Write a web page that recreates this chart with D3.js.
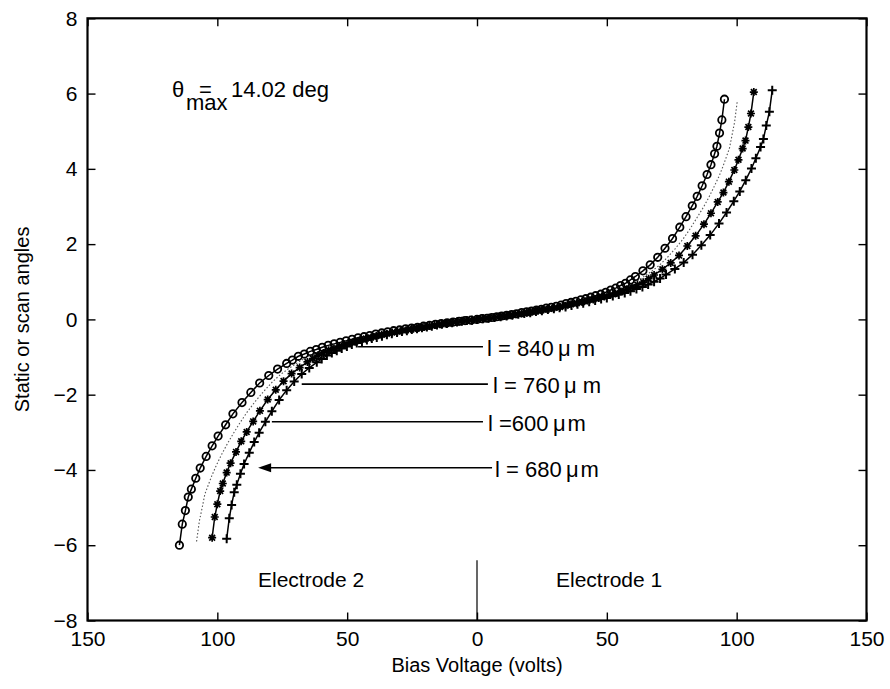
<!DOCTYPE html>
<html>
<head>
<meta charset="utf-8">
<script src="https://cdn.jsdelivr.net/npm/d3@7"></script>
<style>
  html, body { margin: 0; padding: 0; background: #fff; }
  svg { display: block; }
  text { font-family: "Liberation Sans", Arial, Helvetica, sans-serif; fill: #000; }
</style>
</head>
<body>
<svg id="chart" width="890" height="689"></svg>
<script>
// ---- axis ticks ----
const xTickValues = [-150, -100, -50, 0, 50, 100, 150];
const yTickValues = [-8, -6, -4, -2, 0, 2, 4, 6, 8];

// ---- curve with circle markers ----
const voltsO = [-114.6,-113.5,-112.3,-111.2,-110.0,-108.3,-106.6,-104.3,-102.0,-99.7,-96.8,-94.0,-90.5,-87.1,-83.7,-80.2,-76.8,-73.3,-68.8,-64.2,-59.6,-55.0,-50.4,-45.8,-41.3,-36.7,-32.1,-27.5,-22.9,-18.3,-13.8,-9.2,-4.6,
  0,3.8,7.6,11.4,15.2,19.1,22.9,26.7,30.5,34.3,38.1,41.9,45.7,49.6,53.4,57.2,61.0,63.9,66.7,69.6,72.4,75.3,78.1,80.5,82.9,84.8,86.7,88.6,90.1,91.5,92.4,93.4,94.3,95.3];
const angleO = [-6.00,-5.44,-5.08,-4.72,-4.51,-4.22,-3.95,-3.64,-3.36,-3.10,-2.80,-2.51,-2.21,-1.94,-1.69,-1.49,-1.32,-1.17,-0.98,-0.85,-0.74,-0.65,-0.57,-0.49,-0.43,-0.36,-0.30,-0.25,-0.21,-0.16,-0.11,-0.07,-0.03,
  0,0.03,0.07,0.11,0.15,0.20,0.25,0.30,0.35,0.42,0.48,0.55,0.63,0.72,0.83,0.96,1.14,1.29,1.45,1.65,1.89,2.15,2.45,2.73,3.02,3.27,3.55,3.85,4.11,4.40,4.60,4.95,5.30,5.85];
// extra samples through the flat middle of the circle curve
const voltsOMid = [-71.1,-66.5,-61.9,-57.3,-52.7,-48.1,-43.5,-39.0,-34.4,-29.8,-25.2,-20.6,-16.0,-11.5,-6.9,-2.3,
  1.9,5.7,9.5,13.3,17.2,21.0,24.8,28.6,32.4,36.2,40.0,43.8,47.7,51.5,55.3,59.1];
const angleOMid = [-1.08,-0.92,-0.80,-0.69,-0.61,-0.53,-0.46,-0.39,-0.33,-0.28,-0.23,-0.18,-0.13,-0.09,-0.05,-0.02,
  0.02,0.05,0.09,0.13,0.18,0.22,0.27,0.32,0.38,0.45,0.52,0.59,0.67,0.78,0.90,1.05];

// ---- dotted curve (no markers) ----
const voltsDot = [-108.0,-106.9,-105.8,-104.8,-103.7,-102.1,-100.4,-98.3,-96.1,-94.0,-91.3,-88.6,-85.3,-82.1,-78.8,-75.6,-72.4,-69.1,-64.8,-60.5,-56.2,-51.8,-47.5,-43.2,-38.9,-34.6,-30.2,-25.9,-21.6,-17.3,-13.0,-8.6,-4.3,
  0,4.0,8.0,12.0,16.0,20.0,24.0,28.1,32.1,36.1,40.1,44.1,48.1,52.1,56.1,60.1,64.1,67.1,70.1,73.1,76.2,79.2,82.2,84.7,87.2,89.2,91.2,93.2,94.7,96.2,97.2,98.2,99.2,100.2];
const angleDot = [-5.90,-5.35,-4.99,-4.64,-4.44,-4.15,-3.88,-3.58,-3.30,-3.05,-2.75,-2.47,-2.17,-1.91,-1.66,-1.46,-1.30,-1.15,-0.97,-0.84,-0.73,-0.64,-0.56,-0.48,-0.42,-0.36,-0.30,-0.25,-0.20,-0.15,-0.11,-0.07,-0.03,
  0,0.03,0.07,0.11,0.15,0.20,0.25,0.29,0.35,0.41,0.47,0.55,0.62,0.71,0.82,0.95,1.13,1.27,1.43,1.63,1.87,2.12,2.42,2.70,2.98,3.23,3.51,3.80,4.06,4.35,4.54,4.89,5.24,5.78];

// ---- curve with star markers ----
const voltsStar = [-102.0,-101.0,-100.0,-98.9,-97.9,-96.4,-94.9,-92.8,-90.8,-88.7,-86.2,-83.6,-80.6,-77.5,-74.5,-71.4,-68.3,-65.3,-61.2,-57.1,-53.0,-49.0,-44.9,-40.8,-36.7,-32.6,-28.6,-24.5,-20.4,-16.3,-12.2,-8.2,-4.1,
  0,4.3,8.5,12.8,17.1,21.3,25.6,29.8,34.1,38.4,42.6,46.9,51.2,55.4,59.7,64.0,68.2,71.4,74.6,77.8,81.0,84.2,87.4,90.1,92.7,94.9,97.0,99.1,100.7,102.3,103.4,104.5,105.5,106.6];
const angleStar = [-5.80,-5.25,-4.91,-4.56,-4.36,-4.07,-3.82,-3.52,-3.24,-2.99,-2.71,-2.43,-2.13,-1.87,-1.64,-1.44,-1.28,-1.13,-0.95,-0.82,-0.71,-0.62,-0.55,-0.48,-0.41,-0.35,-0.29,-0.25,-0.20,-0.15,-0.11,-0.07,-0.03,
  0,0.03,0.07,0.11,0.16,0.21,0.26,0.31,0.36,0.43,0.50,0.57,0.65,0.74,0.86,0.99,1.18,1.33,1.50,1.70,1.95,2.22,2.53,2.82,3.12,3.37,3.66,3.97,4.24,4.54,4.75,5.11,5.47,6.04];
const voltsStarMid = [-63.2,-59.2,-55.1,-51.0,-46.9,-42.8,-38.8,-34.7,-30.6,-26.5,-22.4,-18.4,-14.3,-10.2,-6.1,-2.0,
  2.1,6.4,10.7,14.9,19.2,23.5,27.7,32.0,36.2,40.5,44.8,49.0,53.3,57.6,61.8,66.1];
const angleStarMid = [-1.04,-0.89,-0.77,-0.66,-0.59,-0.51,-0.44,-0.38,-0.32,-0.27,-0.22,-0.17,-0.13,-0.09,-0.05,-0.02,
  0.02,0.05,0.09,0.14,0.18,0.23,0.28,0.33,0.40,0.46,0.53,0.61,0.69,0.80,0.92,1.08];

// ---- curve with plus markers ----
const voltsPlus = [-96.4,-95.4,-94.5,-93.5,-92.5,-91.1,-89.7,-87.7,-85.8,-83.9,-81.5,-79.0,-76.2,-73.3,-70.4,-67.5,-64.6,-61.7,-57.8,-54.0,-50.1,-46.3,-42.4,-38.6,-34.7,-30.8,-27.0,-23.1,-19.3,-15.4,-11.6,-7.7,-3.9,
  0,4.5,9.1,13.6,18.2,22.7,27.3,31.8,36.4,40.9,45.5,50.0,54.6,59.1,63.7,68.2,72.8,76.2,79.6,83.0,86.4,89.8,93.2,96.1,98.9,101.2,103.5,105.7,107.4,109.2,110.3,111.4,112.6,113.7];
const anglePlus = [-5.83,-5.28,-4.93,-4.59,-4.39,-4.10,-3.84,-3.54,-3.26,-3.01,-2.72,-2.44,-2.14,-1.88,-1.65,-1.45,-1.29,-1.14,-0.96,-0.83,-0.72,-0.63,-0.55,-0.48,-0.41,-0.35,-0.30,-0.25,-0.20,-0.15,-0.11,-0.07,-0.03,
  0,0.03,0.07,0.11,0.16,0.21,0.26,0.31,0.37,0.43,0.50,0.57,0.66,0.75,0.86,1.00,1.19,1.34,1.51,1.72,1.97,2.24,2.55,2.84,3.14,3.40,3.70,4.01,4.28,4.58,4.79,5.15,5.52,6.09];
const voltsPlusMid = [-59.8,-55.9,-52.1,-48.2,-44.3,-40.5,-36.6,-32.8,-28.9,-25.1,-21.2,-17.4,-13.5,-9.6,-5.8,-1.9,
  2.3,6.8,11.4,15.9,20.5,25.0,29.6,34.1,38.7,43.2,47.8,52.3,56.9,61.4,65.9,70.5];
const anglePlusMid = [-1.05,-0.89,-0.77,-0.67,-0.59,-0.51,-0.45,-0.38,-0.32,-0.27,-0.22,-0.18,-0.13,-0.09,-0.05,-0.02,
  0.02,0.05,0.09,0.14,0.18,0.23,0.28,0.33,0.40,0.47,0.54,0.62,0.70,0.81,0.93,1.09];

// ---- length labels ----
const lengthLabels = ["l = 840\u2009\u03bc m", "l = 760\u2009\u03bc m", "l =600\u2009\u03bc\u200am", "l = 680\u2009\u03bc\u200am"];

// ------------------------------------------------------------
const svg = d3.select("#chart");
const x = d3.scaleLinear().domain([-150, 150]).range([87.5, 866.5]);
const y = d3.scaleLinear().domain([-8, 8]).range([620.5, 18.3]);

const zip = (vs, as) => vs.map((v, i) => ({ v, a: as[i] }));
const merged = (vs, as, vm, am) => zip(vs.concat(vm), as.concat(am)).sort((p, q) => p.v - q.v);
const line = d3.line().x(d => x(d.v)).y(d => y(d.a));

// axes with inward ticks on all four sides
const fmtX = d => String(Math.abs(d));
const tick = 8;
svg.append("g").attr("transform", `translate(0,${y(-8)})`)
  .call(d3.axisBottom(x).tickValues(xTickValues).tickFormat(fmtX).tickSizeInner(-tick).tickSizeOuter(0).tickPadding(10))
  .call(g => g.select(".domain").remove())
  .call(g => g.selectAll("text").attr("font-size", 21).attr("dy", "0.72em").attr("font-family", null));
svg.append("g").attr("transform", `translate(0,${y(8)})`)
  .call(d3.axisTop(x).tickValues(xTickValues).tickFormat("").tickSizeInner(-tick).tickSizeOuter(0))
  .call(g => g.select(".domain").remove());
svg.append("g").attr("transform", `translate(${x(-150)},0)`)
  .call(d3.axisLeft(y).tickValues(yTickValues).tickFormat(d3.format("d")).tickSizeInner(-tick).tickSizeOuter(0).tickPadding(10))
  .call(g => g.select(".domain").remove())
  .call(g => g.selectAll("text").attr("font-size", 21).attr("font-family", null));
svg.append("g").attr("transform", `translate(${x(150)},0)`)
  .call(d3.axisRight(y).tickValues(yTickValues).tickFormat("").tickSizeInner(-tick).tickSizeOuter(0))
  .call(g => g.select(".domain").remove());
svg.selectAll(".tick line").attr("stroke", "#000").attr("stroke-width", 1.4);

// frame
svg.append("rect")
  .attr("x", x(-150)).attr("y", y(8))
  .attr("width", x(150) - x(-150)).attr("height", y(-8) - y(8))
  .attr("fill", "none").attr("stroke", "#000").attr("stroke-width", 2.2);

// axis titles
svg.append("text")
  .attr("x", x(0)).attr("y", 672)
  .attr("text-anchor", "middle").attr("font-size", 20)
  .text("Bias Voltage (volts)");
svg.append("text")
  .attr("transform", `translate(29,${y(0)}) rotate(-90)`)
  .attr("text-anchor", "middle").attr("font-size", 20)
  .text("Static or scan angles");

// curves
const dataO = merged(voltsO, angleO, voltsOMid, angleOMid);
const dataDot = zip(voltsDot, angleDot);
const dataStar = merged(voltsStar, angleStar, voltsStarMid, angleStarMid);
const dataPlus = merged(voltsPlus, anglePlus, voltsPlusMid, anglePlusMid);

const plot = svg.append("g");
plot.append("path").datum(dataDot).attr("d", line)
  .attr("fill", "none").attr("stroke", "#555").attr("stroke-width", 1.1).attr("stroke-dasharray", "1.5,2");
[dataO, dataStar, dataPlus].forEach(d => {
  plot.append("path").datum(d).attr("d", line)
    .attr("fill", "none").attr("stroke", "#000").attr("stroke-width", 1.5);
});

plot.append("g").selectAll("circle").data(dataO).join("circle")
  .attr("cx", d => x(d.v)).attr("cy", d => y(d.a)).attr("r", 3.7)
  .attr("fill", "none").attr("stroke", "#000").attr("stroke-width", 1.8);

const plusPath = s => `M${-s},0H${s}M0,${-s}V${s}`;
const starPath = (s, t) => `M${-s},0H${s}M0,${-s}V${s}M${-t},${-t}L${t},${t}M${-t},${t}L${t},${-t}`;
plot.append("g").selectAll("path").data(dataStar).join("path")
  .attr("transform", d => `translate(${x(d.v)},${y(d.a)})`)
  .attr("d", starPath(4, 2.9)).attr("stroke", "#000").attr("stroke-width", 1.7).attr("fill", "none");
plot.append("g").selectAll("path").data(dataPlus).join("path")
  .attr("transform", d => `translate(${x(d.v)},${y(d.a)})`)
  .attr("d", plusPath(4.5)).attr("stroke", "#000").attr("stroke-width", 2).attr("fill", "none");

// theta_max annotation
const th = svg.append("text").attr("font-size", 22);
th.append("tspan").attr("x", 172).attr("y", 97).text("\u03b8");
th.append("tspan").attr("x", 186).attr("y", 110).text("max");
th.append("tspan").attr("x", 199).attr("y", 97).text("=");
th.append("tspan").attr("x", 231).attr("y", 97).text("14.02 deg");

// length annotations: leader line from the curve band to the label
const leaders = [
  { from: -45.8, to: 2.3, at: -0.725, tx: 487, arrow: false },
  { from: -67.5, to: 4.2, at: -1.72, tx: 493, arrow: false },
  { from: -79.0, to: 2.3, at: -2.72, tx: 488, arrow: false },
  { from: -84.3, to: 5.8, at: -3.94, tx: 495, arrow: true }
];
leaders.forEach((l, i) => {
  const yy = y(l.at);
  svg.append("line")
    .attr("x1", x(l.from) + (l.arrow ? 12 : 0)).attr("x2", x(l.to))
    .attr("y1", yy).attr("y2", yy)
    .attr("stroke", "#000").attr("stroke-width", 1.6);
  if (l.arrow) {
    const x0 = x(l.from);
    svg.append("path")
      .attr("d", `M${x0},${yy}L${x0 + 13},${yy - 4.5}L${x0 + 13},${yy + 4.5}Z`)
      .attr("fill", "#000");
  }
  svg.append("text").attr("x", l.tx).attr("y", yy + 9).attr("font-size", 22)
    .text(lengthLabels[i]);
});

// electrode regions
svg.append("line")
  .attr("x1", x(0)).attr("x2", x(0)).attr("y1", y(-6.4)).attr("y2", y(-8))
  .attr("stroke", "#000").attr("stroke-width", 1.2);
svg.append("text").attr("x", 258).attr("y", 587).attr("font-size", 21).text("Electrode 2");
svg.append("text").attr("x", 556).attr("y", 587).attr("font-size", 21).text("Electrode 1");
</script>
</body>
</html>
